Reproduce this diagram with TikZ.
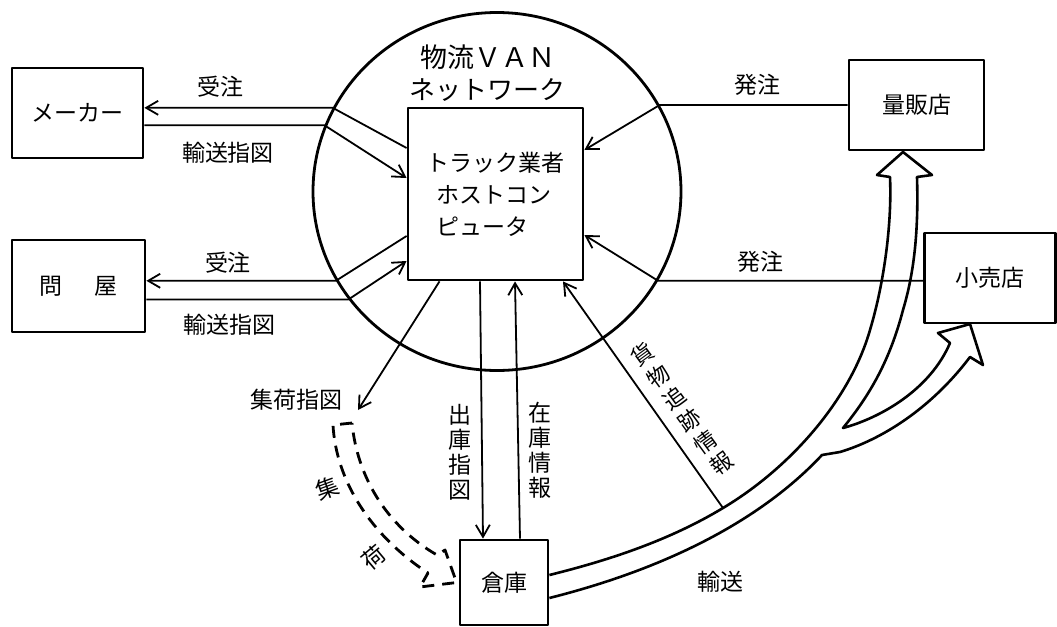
\documentclass[tikz,border=0pt]{standalone}
\usepackage{fontspec}
\setmainfont{Noto Sans CJK JP}
\usetikzlibrary{arrows.meta,shapes.geometric}
\tikzset{>={Straight Barb[length=6pt,width=7pt]}}
\tikzset{
  unit/.style={draw, line width=1.4pt, inner sep=0pt, font=\fontsize{11.5}{14}\selectfont},
  flow/.style={line width=0.9pt},
  lbl/.style={inner sep=1pt, font=\fontsize{11.5}{14}\selectfont},
  vlbl/.style={inner sep=1pt, align=center, font=\fontsize{11.5}{12.5}\selectfont},
  hollow/.style={line width=1.3pt},
  pickup/.style={line width=1.4pt, dash pattern=on 6pt off 4pt}
}

\begin{document}
\begin{tikzpicture}[x=0.5pt, y=-0.5pt, line join=round]
    \useasboundingbox (0,0) rectangle (1057,627);
    \node[draw, ellipse, line width=1.4pt, inner sep=0pt, minimum width=184pt, minimum height=179pt] (van) at (497,191.5) {};
    \node[lbl, font=\fontsize{13.5}{16}\selectfont] (vantitle) at (488,57) {物流ＶＡＮ};
    \node[lbl, font=\fontsize{13}{16}\selectfont] (vansub) at (487,90) {ネットワーク};
    \node[unit, minimum width=87.5pt, minimum height=86pt, align=left, font=\fontsize{11.5}{16}\selectfont] (host) at (495.5,194)
        {トラック業者\\\hspace*{5pt}ホストコン\\\hspace*{5pt}ピュータ};
    \node[unit, minimum width=65.5pt, minimum height=45pt] (maker) at (77.5,113) {メーカー};
    \node[unit, minimum width=66.5pt, minimum height=46pt] (tonya) at (78.5,286) {問\hspace{1.4em}屋};
    \node[unit, minimum width=67.5pt, minimum height=45pt] (ryohan) at (916.5,105) {量販店};
    \node[unit, minimum width=65.5pt, minimum height=45pt] (kouri) at (990,278) {小売店};
    \node[unit, minimum width=44pt, minimum height=42.5pt] (souko) at (504,582.5) {倉庫};

    % orders and shipping instructions
    \draw[flow, ->] ([yshift=23pt]host.west) -- (van.153) -- (van.153 -| maker.east);
    \draw[flow, ->] (van.159 -| maker.east) -- (van.159) -- ([yshift=8pt]host.west);
    \draw[flow, ->] ([yshift=-21pt]host.west) -- (van.209) -- (van.209 -| tonya.east);
    \draw[flow, ->] (van.216 -| tonya.east) -- (van.216) -- ([yshift=-33.5pt]host.west);
    \draw[flow, ->] (van.28 -| ryohan.west) -- (van.28) -- ([yshift=22pt]host.east);
    \draw[flow, ->] (van.331 -| kouri.west) -- (van.331) -- ([yshift=-20.5pt]host.east);
    \node[lbl] (order1) at (220,87) {受注};
    \node[lbl] (ship1) at (228,153) {輸送指図};
    \node[lbl] (order2) at (228,263) {受注};
    \node[lbl] (ship2) at (230,325) {輸送指図};
    \node[lbl] (buy1) at (757,85) {発注};
    \node[lbl] (buy2) at (760,262) {発注};

    % warehouse
    \draw[flow, ->] ([xshift=-7.75pt]host.south) -- ([xshift=-10.5pt]souko.north);
    \draw[flow, ->] ([xshift=8pt]souko.north) -- ([xshift=9.75pt]host.south);
    \node[vlbl] (outlbl) at (460,452) {出\\庫\\指\\図};
    \node[vlbl] (stocklbl) at (540,450) {在\\庫\\情\\報};

    \coordinate (pick) at (358,410);
    \draw[flow, ->] ([xshift=-28pt]host.south) -- (pick);
    \node[lbl] (picklbl) at (296,400) {集荷指図};

    % transport
    \draw[hollow] ([yshift=3.75pt]souko.east) .. controls (610,560) and (670,540) .. (723,508) coordinate (track)
        .. controls (790,468) and (850,400) .. (870,330)
        .. controls (885,280) and (892,220) .. (890,177)
        -- (877,175) -- (903,152) -- (932,175) -- (917,177)
        .. controls (919,240) and (912,280) .. (903,310)
        .. controls (890,360) and (870,395) .. (843,428)
        .. controls (880,418) and (930,390) .. (950,343)
        -- (938,333) -- (970,324) -- (983,365) -- (970,357)
        .. controls (930,410) and (880,440) .. (840,452)
        -- (822,455)
        .. controls (780,500) and (700,560) .. ([yshift=-7.75pt]souko.east);
    \node[lbl] (shiplbl) at (720,582) {輸送};

    \draw[flow, ->] (track) -- ([xshift=33.75pt]host.south);
    \node[vlbl, rotate=36, font=\fontsize{11}{13.5}\selectfont] (tracelbl) at (682,409) {貨\\物\\追\\跡\\情\\報};

    % pick-up
    \draw[pickup] (352,423) -- (333,425)
        .. controls (336,480) and (370,535) .. (428,573)
        -- (420,587) -- ([xshift=-1pt]souko.west) -- (445,550) -- (437,555)
        .. controls (385,525) and (357,475) .. (352,423);
    \node[lbl, rotate=20] (pick1) at (327,488) {集};
    \node[lbl, rotate=40] (pick2) at (374,557) {荷};
\end{tikzpicture}
\end{document}
